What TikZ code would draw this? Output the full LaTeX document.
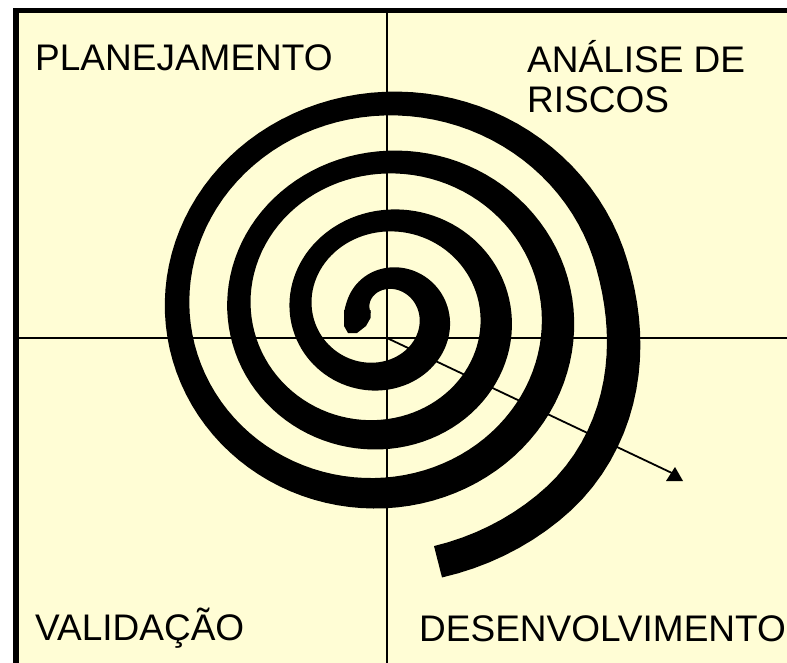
\documentclass[tikz,border=0pt]{standalone}
\usepackage{fontspec}
\setmainfont{Liberation Sans}
\definecolor{bgyellow}{HTML}{FFFDD5}
\begin{document}
\begin{tikzpicture}[x=1pt,y=-1pt,
  axisline/.style={line width=1.8pt, black},
  quadlabel/.style={anchor=base west, inner sep=0pt, font=\fontsize{37}{42}\selectfont},
  declare function={
    sang(\t)=180+90*\t;
    sramp(\t)=min(1,max(0,(\t-13.85)/0.7));
    sbump(\t)=18*sramp(\t)^2*(3-2*sramp(\t));
    srad(\t)=19.5+15.1*\t+5.5*exp(max(-9,-3.1*\t))+sbump(\t);
    swid(\t)=25+0.25*\t+5.5*cos(sang(\t)-45)+5*exp(max(-9,-2*\t));
  }]
\useasboundingbox (0,0) rectangle (787,663);
\clip (0,0) rectangle (787,663);
\fill[white] (0,0) rectangle (787,663);
\draw[fill=bgyellow, line width=5.5pt] (16,10.5) rectangle (830,720);
% axes
\coordinate (O) at (387,338);
\coordinate (axtop) at (387,13);
\coordinate (axbot) at (387,663);
\coordinate (axlft) at (19,338);
\coordinate (axrgt) at (787,338);
\draw[axisline] (axtop) -- (axbot);
\draw[axisline] (axlft) -- (axrgt);
% spiral
\fill[black]
  plot[variable=\t, domain=0:14.87, samples=400]
    ({383+1.025*(srad(\t)+swid(\t)/2)*cos(sang(\t))},{313+0.97*(srad(\t)+swid(\t)/2)*sin(sang(\t))})
  -- plot[variable=\t, domain=14.87:0, samples=400]
    ({383+1.025*(srad(\t)-swid(\t)/2)*cos(sang(\t))},{313+0.97*(srad(\t)-swid(\t)/2)*sin(sang(\t))})
  -- cycle;
% inner tail of the spiral
\fill[black] (344,310) -- (344,326) -- (348,333) -- (357,333) -- (366,326) -- (370.5,318) -- (370.5,310) -- cycle;
% arrow
\coordinate (aend) at (674,474);
\draw[line width=1.8pt] (O) -- (aend);
\fill[black] (666,481) -- (683,481) -- (675,467) -- cycle;
% labels
\node[quadlabel] (plan) at (35,70.5) {PLANEJAMENTO};
\node[quadlabel] (anal) at (527,72.5) {ANÁLISE DE};
\node[quadlabel] (risc) at (527,112.5) {RISCOS};
\node[quadlabel] (vali) at (35,640) {VALIDAÇÃO};
\node[quadlabel] (dese) at (419,641) {DESENVOLVIMENTO};
\end{tikzpicture}
\end{document}
